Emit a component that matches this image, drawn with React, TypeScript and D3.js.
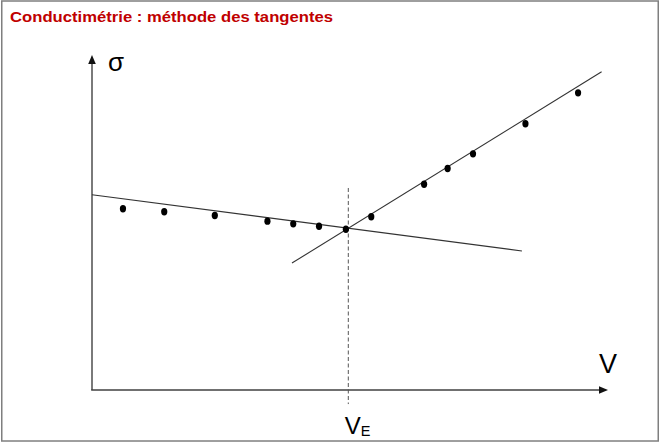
import React from "react";
import * as d3 from "d3";

// Measured points (V in mL, sigma in arbitrary units)
const pointsV = [1.5, 3.5, 5.95, 8.5, 9.75, 11.0, 12.3, 13.53, 16.09, 17.23, 18.46, 21.0, 23.55];
const pointsS = [5.41, 5.32, 5.21, 5.04, 4.96, 4.89, 4.8, 5.17, 6.14, 6.61, 7.05, 7.95, 8.87];

// Tangent lines (endpoints)
const tangent1V = [0, 20.83];
const tangent1S = [5.83, 4.15];
const tangent2V = [9.69, 24.69];
const tangent2S = [3.79, 9.5];

const xDomain = [0, 25];
const yDomain = [0, 10];
const dashedS = [6.03, -0.42];

const title = "Conductimétrie : méthode des tangentes";

export default function App() {
  const W = 660, H = 443;
  const x = d3.scaleLinear().domain(xDomain).range([92, 608]);
  const y = d3.scaleLinear().domain(yDomain).range([390, 55]);

  // intersection of tangents -> V_E
  const m1 = (tangent1S[1] - tangent1S[0]) / (tangent1V[1] - tangent1V[0]);
  const b1 = tangent1S[0] - m1 * tangent1V[0];
  const m2 = (tangent2S[1] - tangent2S[0]) / (tangent2V[1] - tangent2V[0]);
  const b2 = tangent2S[0] - m2 * tangent2V[0];
  const vE = (b2 - b1) / (m1 - m2);

  const line = d3.line<[number, number]>().x(d => x(d[0])).y(d => y(d[1]));
  const t1: [number, number][] = tangent1V.map((v, i) => [v, tangent1S[i]]);
  const t2: [number, number][] = tangent2V.map((v, i) => [v, tangent2S[i]]);

  const x0 = x(xDomain[0]), x1 = x(xDomain[1]);
  const y0 = y(yDomain[0]), y1 = y(yDomain[1]);
  const axisColor = "#404040";

  return (
    <svg width={W} height={H} style={{ position: "fixed", left: 0, top: 0, background: "#fff" }}>
      <rect x={1.75} y={1} width={656.5} height={440} fill="#fff" stroke="#7f7f7f" strokeWidth={1.5} />
      <text x={10} y={22} fill="#c00000" fontFamily="Liberation Sans, Arial, sans-serif" fontWeight="bold" fontSize={15}
        textLength={323} lengthAdjust="spacingAndGlyphs">{title}</text>

      {/* axes */}
      <line x1={x0} y1={y0} x2={x0} y2={y1 + 7} stroke="#595959" strokeWidth={1.6} />
      <path d={`M${x0},${y1} L${x0 - 3.8},${y1 + 9} L${x0 + 3.8},${y1 + 9} Z`} fill="#111" />
      <line x1={x0 - 0.8} y1={y0} x2={x1 - 7} y2={y0} stroke={axisColor} strokeWidth={1.6} />
      <path d={`M${x1},${y0} L${x1 - 9},${y0 - 3.8} L${x1 - 9},${y0 + 3.8} Z`} fill="#111" />

      {/* dashed vertical at V_E */}
      <line x1={x(vE)} y1={y(dashedS[0])} x2={x(vE)} y2={y(dashedS[1])} stroke="#555" strokeWidth={1} strokeDasharray="4,2.5" />

      {/* tangents */}
      <path d={line(t1) || ""} fill="none" stroke="#333" strokeWidth={1.1} />
      <path d={line(t2) || ""} fill="none" stroke="#333" strokeWidth={1.1} />

      {/* points */}
      {pointsV.map((v, i) => (
        <ellipse key={i} cx={x(v)} cy={y(pointsS[i])} rx={3.1} ry={3.7} fill="#000" />
      ))}

      {/* labels */}
      <text x={108} y={70.5} fontFamily="Liberation Sans, Arial, sans-serif" fontSize={26} fill="#000">σ</text>
      <text x={599} y={373} fontFamily="Liberation Sans, Arial, sans-serif" fontSize={27} fill="#000">V</text>
      <text x={x(vE) - 3.5} y={433.5} fontFamily="Liberation Sans, Arial, sans-serif" fontSize={24} fill="#000">V
        <tspan fontSize={14.5} dy={2}>E</tspan>
      </text>
    </svg>
  );
}
